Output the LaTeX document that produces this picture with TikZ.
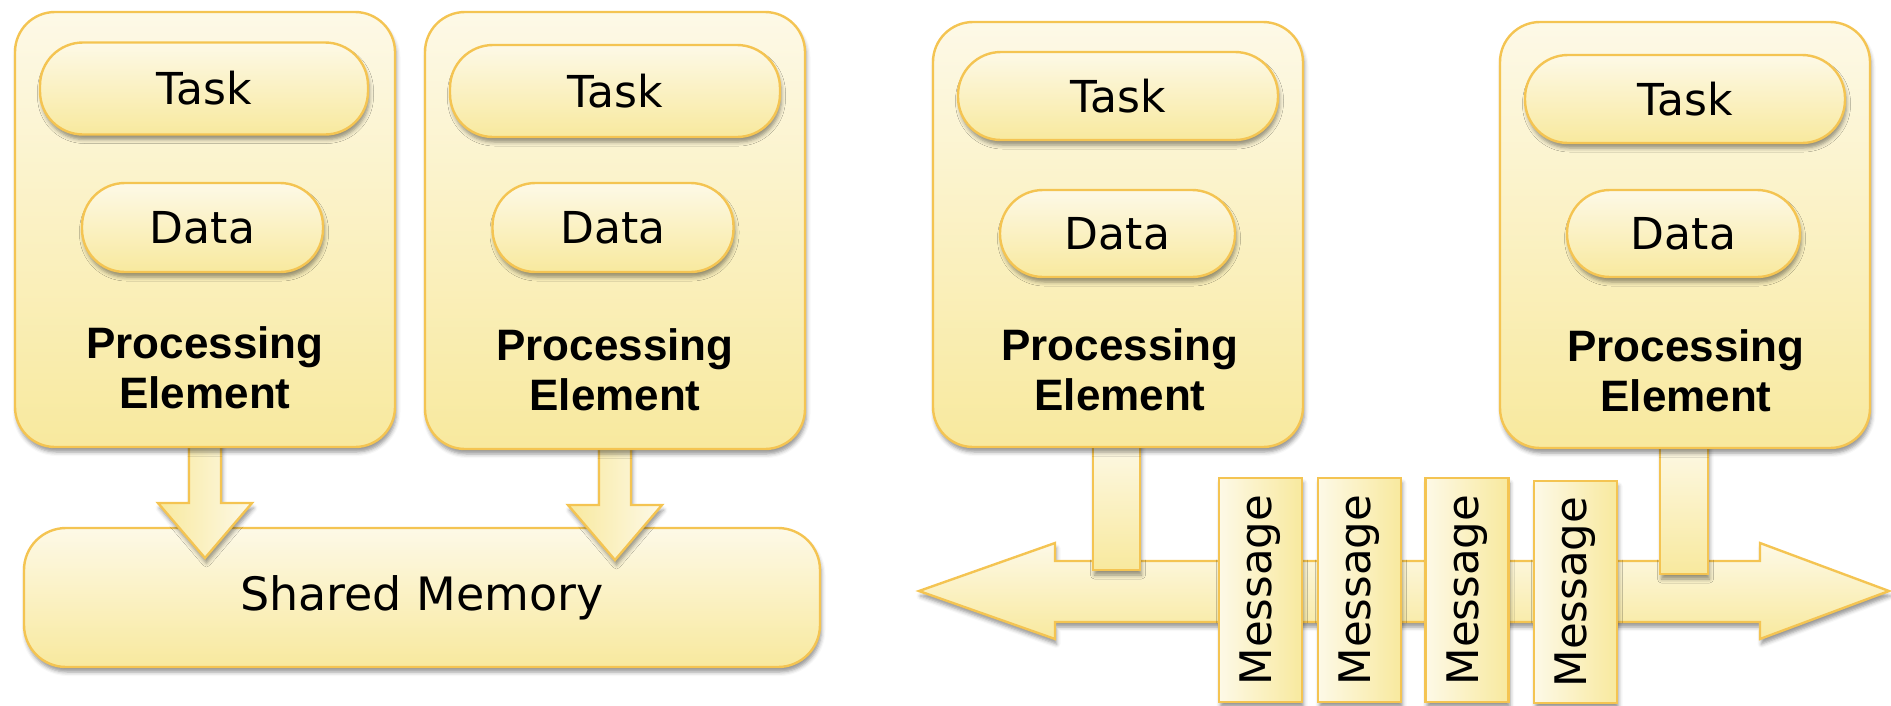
\documentclass[tikz,border=0pt]{standalone}
\usepackage{fontspec}
\setmainfont{DejaVu Sans}
\newfontfamily\pefont{Liberation Sans}
\usetikzlibrary{shadows.blur,calc}

\definecolor{edge}{RGB}{244,196,82}
\definecolor{creamTop}{RGB}{253,249,231}
\definecolor{creamBot}{RGB}{248,233,158}

\tikzset{
  softshadow/.style={blur shadow={shadow xshift=1.5pt, shadow yshift=-5pt,
      shadow blur radius=4pt, shadow opacity=42}},
  panel/.style={draw=edge, line width=2.4pt, top color=creamTop,
      bottom color=creamBot, softshadow, inner sep=0pt, outer sep=0pt},
  pebox/.style={panel, rounded corners=40pt},
  pill/.style={panel, rounded corners=43pt, font=\fontsize{44}{52}\selectfont},
  pelabel/.style={align=center, inner sep=0pt,
      font=\pefont\bfseries\fontsize{44}{50}\selectfont},
  memory/.style={panel, rounded corners=42pt, minimum width=796pt,
      minimum height=139pt, font=\fontsize{46}{52}\selectfont},
  msgbox/.style={draw=edge, line width=2.4pt, left color=creamTop,
      right color=creamBot, softshadow, minimum width=83pt,
      minimum height=224pt, inner sep=0pt, outer sep=0pt,
      font=\fontsize{43.5}{50}\selectfont},
  blockarrow/.style={draw=edge, line width=2.4pt, left color=creamBot,
      right color=creamTop, softshadow, line join=miter},
  busarrow/.style={draw=edge, line width=2.4pt, top color=creamTop,
      bottom color=creamBot, softshadow, line join=miter},
  shaftbox/.style={draw=edge, line width=2.4pt, top color=creamTop,
      bottom color=creamBot, softshadow},
  downarrow/.pic={
    \draw[blockarrow] (-16,-8) -- (-16,56) -- (-47,56) -- (0,111)
      -- (47,56) -- (16,56) -- (16,-8) -- cycle;
  },
}

\begin{document}
\begin{tikzpicture}[x=1pt,y=-1pt]
\useasboundingbox (0,0) rectangle (1891,705);

% bottom-centre points of the four processing elements
\coordinate (pe1s) at (205,447);
\coordinate (pe2s) at (615,449);
\coordinate (pe3s) at (1118,447);
\coordinate (pe4s) at (1685,448);

% ---------- shared-memory model: memory and access arrows ----------
\node[memory] (mem) at (422,597.5) {Shared Memory};
\pic at (pe1s) {downarrow};
\pic at (pe2s) {downarrow};

% ---------- message-passing model: channel and links ----------
\coordinate (busL) at (919,591);
\coordinate (busR) at (1889,591);
\draw[busarrow] (busL) -- (1055,543) -- (1055,561) -- (1760,561)
  -- (1760,543) -- (busR) -- (1760,639) -- (1760,622) -- (1055,622)
  -- (1055,639) -- cycle;
\draw[shaftbox] ($(pe3s)+(-25,-8)$) rectangle ($(pe3s)+(22,123)$);
\draw[shaftbox] ($(pe4s)+(-25,-8)$) rectangle ($(pe4s)+(23,126)$);

% ---------- processing elements ----------
\node[pebox, minimum width=380pt, minimum height=435pt] (pe1) at (205,229.5) {};
\node[pebox, minimum width=380pt, minimum height=437pt] (pe2) at (615,230.5) {};
\node[pebox, minimum width=370pt, minimum height=425pt] (pe3) at (1118,234.5) {};
\node[pebox, minimum width=370pt, minimum height=426pt] (pe4) at (1685,235) {};

\node[pill, minimum width=328pt, minimum height=92pt] (t1) at (204,88.5) {Task};
\node[pill, minimum width=241pt, minimum height=89pt] (d1) at (202.5,227.5) {Data};
\node[pelabel] (l1) at (205,368) {Processing\\Element};

\node[pill, minimum width=330pt, minimum height=92pt] (t2) at (615,91) {Task};
\node[pill, minimum width=241pt, minimum height=89pt] (d2) at (613,227.5) {Data};
\node[pelabel] (l2) at (615,370) {Processing\\Element};

\node[pill, minimum width=320pt, minimum height=88pt] (t3) at (1118,96) {Task};
\node[pill, minimum width=235pt, minimum height=87pt] (d3) at (1117.5,233.5) {Data};
\node[pelabel] (l3) at (1120,370) {Processing\\Element};

\node[pill, minimum width=320pt, minimum height=88pt] (t4) at (1685,99) {Task};
\node[pill, minimum width=233pt, minimum height=87pt] (d4) at (1683.5,233.5) {Data};
\node[pelabel] (l4) at (1686,371) {Processing\\Element};

% ---------- messages on the channel ----------
\node[msgbox] (m1) at (1260.5,590) {\rotatebox{90}{Message}};
\node[msgbox] (m2) at (1359.5,590) {\rotatebox{90}{Message}};
\node[msgbox] (m3) at (1467,590) {\rotatebox{90}{Message}};
\node[msgbox, minimum height=222pt] (m4) at (1575.5,592) {\rotatebox{90}{Message}};
\end{tikzpicture}
\end{document}
